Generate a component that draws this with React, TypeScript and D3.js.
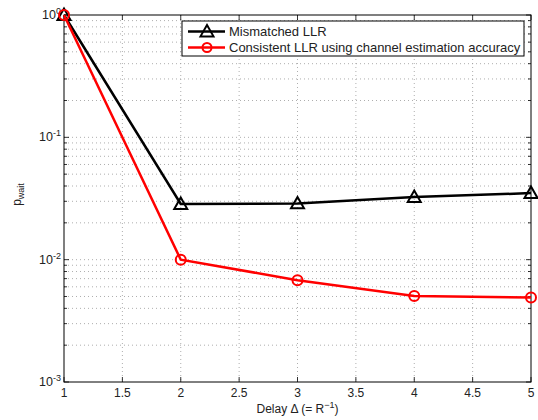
import React from "react";
import * as d3 from "d3";

const delays = [1, 2, 3, 4, 5];
const mismatched = [1.0, 0.0285, 0.0288, 0.0325, 0.035];
const consistent = [1.0, 0.01, 0.0068, 0.00505, 0.0049];
const xTicks = [1, 1.5, 2, 2.5, 3, 3.5, 4, 4.5, 5];
const yDecades = [-3, -2, -1, 0];
const legendLabels = ["Mismatched LLR", "Consistent LLR using channel estimation accuracy"];

const W = 538, H = 420;
const L = 64, R = 531, T = 15, B = 382;
const FONT = "'Liberation Sans', Arial, Helvetica, sans-serif";

export default function App() {
  const x = d3.scaleLinear().domain([1, 5]).range([L, R]);
  const y = d3.scaleLog().domain([1e-3, 1]).range([B, T]);
  const minor: number[] = [];
  for (let e = -3; e < 0; e++) for (let m = 2; m <= 9; m++) minor.push(m * Math.pow(10, e));
  const line = d3.line<number>().x((_, i) => x(delays[i])).y((d) => y(d));
  const tri = (cx: number, cy: number) => {
    const s = 6.5;
    return `M${cx},${cy - s}L${cx + s},${cy + s * 0.75}L${cx - s},${cy + s * 0.75}Z`;
  };
  const majors = yDecades.map((e) => Math.pow(10, e));
  return (
    <svg width={W} height={H} style={{ position: "absolute", left: 0, top: 0, background: "#fff" }} fontFamily={FONT}>
      <rect x={0} y={0} width={W} height={H} fill="#fff" />
      {/* grid */}
      <g stroke="#999" strokeWidth={0.8} strokeDasharray="1,3">
        {xTicks.slice(1, -1).map((t) => (
          <line key={"gx" + t} x1={x(t)} x2={x(t)} y1={T} y2={B} />
        ))}
        {[...minor, ...majors.slice(1, -1)].map((v, i) => (
          <line key={"gy" + i} x1={L} x2={R} y1={y(v)} y2={y(v)} />
        ))}
      </g>
      {/* ticks */}
      <g stroke="#000" strokeWidth={0.8}>
        {xTicks.map((t) => (
          <g key={"tx" + t}>
            <line x1={x(t)} x2={x(t)} y1={B} y2={B - 5} />
            <line x1={x(t)} x2={x(t)} y1={T} y2={T + 5} />
          </g>
        ))}
        {majors.map((v, i) => (
          <g key={"ty" + i}>
            <line x1={L} x2={L + 5} y1={y(v)} y2={y(v)} />
            <line x1={R} x2={R - 5} y1={y(v)} y2={y(v)} />
          </g>
        ))}
        {minor.map((v, i) => (
          <g key={"tm" + i}>
            <line x1={L} x2={L + 3} y1={y(v)} y2={y(v)} />
            <line x1={R} x2={R - 3} y1={y(v)} y2={y(v)} />
          </g>
        ))}
      </g>
      <rect x={L} y={T} width={R - L} height={B - T} fill="none" stroke="#000" strokeWidth={1} />
      {/* tick labels */}
      <g fontSize={12} fill="#222">
        {xTicks.map((t) => (
          <text key={"lx" + t} x={x(t)} y={B + 15} textAnchor="middle">{String(t)}</text>
        ))}
        {yDecades.map((e) => (
          <text key={"ly" + e} x={L - 3} y={y(Math.pow(10, e)) + 4} textAnchor="end" fontSize={12.5}>
            10<tspan dy={-5} fontSize={9}>{String(e)}</tspan>
          </text>
        ))}
      </g>
      {/* axis labels */}
      <text x={(L + R) / 2} y={413} textAnchor="middle" fontSize={12} fill="#222">
        Delay Δ (= R<tspan dy={-5} fontSize={9}>−1</tspan><tspan dy={5}>)</tspan>
      </text>
      <text transform={`translate(21,${(T + B) / 2 - 4}) rotate(-90)`} textAnchor="middle" fontSize={12} fill="#222">
        p<tspan dy={3} fontSize={9}>wait</tspan>
      </text>
      {/* series */}
      <path d={line(mismatched) || ""} fill="none" stroke="#000" strokeWidth={2.5} />
      {mismatched.map((v, i) => (
        <path key={"m" + i} d={tri(x(delays[i]), y(v))} fill="none" stroke="#000" strokeWidth={2} />
      ))}
      <path d={line(consistent) || ""} fill="none" stroke="#f00" strokeWidth={2.5} />
      {consistent.map((v, i) => (
        <circle key={"c" + i} cx={x(delays[i])} cy={y(v)} r={5} fill="none" stroke="#f00" strokeWidth={2} />
      ))}
      {/* legend */}
      <rect x={182} y={21} width={342} height={35} fill="#fff" stroke="#000" strokeWidth={1} />
      <line x1={188} x2={225} y1={31.5} y2={31.5} stroke="#000" strokeWidth={2.5} />
      <path d={tri(207, 31.5)} fill="none" stroke="#000" strokeWidth={2} />
      <text x={229} y={36} fontSize={13} fill="#222">{legendLabels[0]}</text>
      <line x1={188} x2={225} y1={47.5} y2={47.5} stroke="#f00" strokeWidth={2.5} />
      <circle cx={207} cy={47.5} r={4.5} fill="none" stroke="#f00" strokeWidth={2} />
      <text x={229} y={52} fontSize={13} fill="#222">{legendLabels[1]}</text>
    </svg>
  );
}
